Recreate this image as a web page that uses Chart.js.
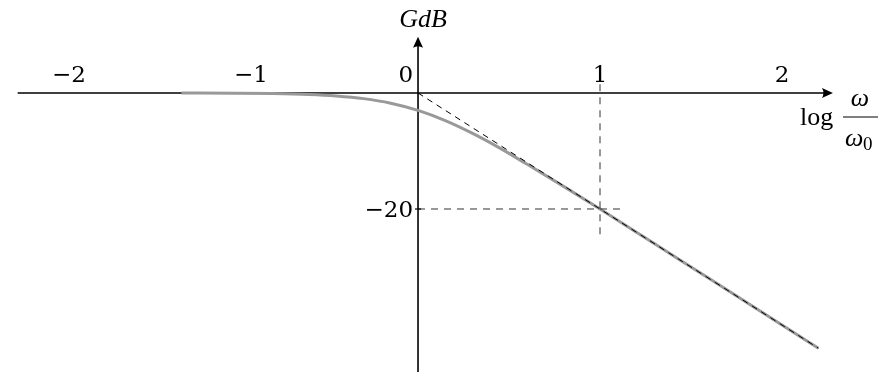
<!DOCTYPE html>
<html>
<head>
<meta charset="utf-8">
<script src="https://cdn.jsdelivr.net/npm/chart.js@4/dist/chart.umd.min.js"></script>
<style>
  html, body { margin: 0; padding: 0; background: #fff; }
  #bode { display: block; }
</style>
</head>
<body>
<canvas id="bode" width="885" height="372"></canvas>
<script>
// Diagramme de Bode (gain) d'un passe-bas du premier ordre

// log(w/w0) et gain en dB de la courbe réelle
const logW = [-1.3, -1.0, -0.8, -0.6, -0.45, -0.3, -0.15, 0, 0.15, 0.3, 0.45, 0.6, 0.8, 1.0, 1.3, 1.6, 2.0, 2.2];
const gainDb = [-0.01, -0.04, -0.11, -0.27, -0.52, -0.97, -1.76, -3.0, -4.76, -6.97, -9.5, -12.3, -16.1, -20.0, -26.0, -32.0, -40.0, -44.0];

// asymptote de pente -20 dB/décade
const asymX = [0, 2.2];
const asymY = [0, -44];

// repères en pointillés
const guideVX = [1, 1];
const guideVY = [1.5, -24.5];
const guideHX = [0, 1.13];
const guideHY = [-20, -20];

// graduations
const xTicks = [-2, -1, 0, 1, 2];
const yTickValues = [-20];

// étendue des axes tracés
const xAxisRange = [-2.2, 2.28];
const yAxisRange = [-48.5, 9.7];

const toPts = (xs, ys) => xs.map((x, i) => ({ x: x, y: ys[i] }));

const serif = '"DejaVu Serif", "Liberation Serif", serif';
const serifLight = '"Liberation Serif", "DejaVu Serif", serif';

function arrowHead(ctx, x, y, dir) {
  // dir: 'right' ou 'up'
  ctx.beginPath();
  if (dir === 'right') {
    ctx.moveTo(x, y);
    ctx.lineTo(x - 11, y - 5);
    ctx.quadraticCurveTo(x - 8, y, x - 11, y + 5);
  } else {
    ctx.moveTo(x, y);
    ctx.lineTo(x - 5, y + 11);
    ctx.quadraticCurveTo(x, y + 8, x + 5, y + 11);
  }
  ctx.closePath();
  ctx.fill();
}

const axesPlugin = {
  id: 'axesPlugin',
  beforeDatasetsDraw(chart) {
    const { ctx, scales } = chart;
    const sx = scales.x, sy = scales.y;
    const x0 = sx.getPixelForValue(0);
    const y0 = sy.getPixelForValue(0);

    ctx.save();
    ctx.strokeStyle = '#000';
    ctx.fillStyle = '#000';
    ctx.lineWidth = 1.6;

    // axe horizontal
    const xa = sx.getPixelForValue(xAxisRange[0]);
    const xb = sx.getPixelForValue(xAxisRange[1]);
    ctx.beginPath();
    ctx.moveTo(xa, y0);
    ctx.lineTo(xb - 4, y0);
    ctx.stroke();
    arrowHead(ctx, xb, y0, 'right');

    // axe vertical
    const ya = sy.getPixelForValue(yAxisRange[0]);
    const yb = sy.getPixelForValue(yAxisRange[1]);
    ctx.beginPath();
    ctx.moveTo(x0, ya);
    ctx.lineTo(x0, yb + 4);
    ctx.stroke();
    arrowHead(ctx, x0, yb, 'up');
    ctx.restore();
  },
  afterDatasetsDraw(chart) {
    const { ctx, scales } = chart;
    const sx = scales.x, sy = scales.y;
    const x0 = sx.getPixelForValue(0);
    const y0 = sy.getPixelForValue(0);

    ctx.save();
    ctx.fillStyle = '#000';
    ctx.strokeStyle = '#000';
    ctx.font = '300 23px ' + serif;
    ctx.textBaseline = 'alphabetic';

    // étiquettes de l'axe horizontal
    xTicks.forEach(v => {
      const px = sx.getPixelForValue(v);
      const txt = v < 0 ? '\u2212' + Math.abs(v) : String(v);
      if (v < 0) {
        ctx.textAlign = 'left';
        ctx.fillText(txt, px - 2, y0 - 11);
      } else if (v === 0) {
        ctx.textAlign = 'right';
        ctx.fillText(txt, px - 5, y0 - 11);
      } else {
        ctx.textAlign = 'center';
        ctx.fillText(txt, px, y0 - 11);
      }
    });

    // étiquettes de l'axe vertical
    yTickValues.forEach(v => {
      const py = sy.getPixelForValue(v);
      ctx.textAlign = 'right';
      ctx.fillText('\u2212' + Math.abs(v), x0 - 5, py + 8);
      ctx.lineWidth = 1.2;
      ctx.beginPath();
      ctx.moveTo(x0 - 3, py);
      ctx.lineTo(x0 + 3, py);
      ctx.stroke();
    });

    // titre de l'axe vertical
    ctx.textAlign = 'center';
    ctx.font = 'italic 26px ' + serifLight;
    ctx.fillText('GdB', x0 + 5, 27);

    // titre de l'axe horizontal : log w/w0
    ctx.textAlign = 'left';
    ctx.font = '26px ' + serifLight;
    ctx.fillText('log', 800, 125);
    ctx.font = 'italic 26px ' + serifLight;
    ctx.textAlign = 'center';
    ctx.fillText('\u03c9', 860, 106);
    ctx.lineWidth = 1.2;
    ctx.beginPath();
    ctx.moveTo(843, 117);
    ctx.lineTo(878, 117);
    ctx.stroke();
    ctx.textAlign = 'left';
    ctx.fillText('\u03c9', 845, 146);
    ctx.font = '19px ' + serifLight;
    ctx.fillText('0', 863, 150);
    ctx.restore();
  }
};

new Chart(document.getElementById('bode'), {
  type: 'scatter',
  data: {
    datasets: [
      {
        label: 'gain',
        data: toPts(logW, gainDb),
        showLine: true,
        borderColor: '#999999',
        borderWidth: 3,
        pointRadius: 0,
        cubicInterpolationMode: 'monotone',
        order: 2
      },
      {
        label: 'asymptote',
        data: toPts(asymX, asymY),
        showLine: true,
        borderColor: '#000',
        borderWidth: 1,
        borderDash: [6, 5],
        pointRadius: 0,
        order: 1
      },
      {
        label: 'repère vertical',
        data: toPts(guideVX, guideVY),
        showLine: true,
        borderColor: '#333',
        borderWidth: 1,
        borderDash: [7, 6],
        pointRadius: 0,
        order: 1
      },
      {
        label: 'repère horizontal',
        data: toPts(guideHX, guideHY),
        showLine: true,
        borderColor: '#333',
        borderWidth: 1,
        borderDash: [7, 6],
        pointRadius: 0,
        order: 1
      }
    ]
  },
  options: {
    responsive: false,
    animation: false,
    events: [],
    layout: { padding: 0 },
    plugins: {
      legend: { display: false },
      tooltip: { enabled: false },
      title: { display: false }
    },
    scales: {
      x: { type: 'linear', display: false, min: -2.297, max: 2.566 },
      y: { type: 'linear', display: false, min: -48.1, max: 16.03 }
    }
  },
  plugins: [axesPlugin]
});
</script>
</body>
</html>
